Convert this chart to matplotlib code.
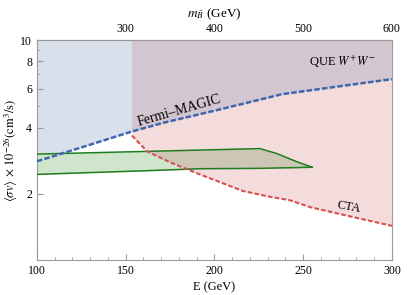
import numpy as np
import matplotlib
matplotlib.use('Agg')
import matplotlib.pyplot as plt

plt.rcParams['font.family'] = ['Liberation Serif', 'DejaVu Serif']
plt.rcParams['mathtext.fontset'] = 'stix'

# ----------------------------- data

# Fermi-MAGIC limit (blue dashed)
fermi_E = [100, 133.8, 153.5, 171.5, 201.4, 238, 300]
fermi_sv = [2.81, 3.42, 3.84, 4.21, 4.80, 5.67, 6.64]

# CTA sensitivity (red dashed)
cta_E = [153.5, 162, 175, 191.8, 216, 229.6, 242.5, 253.8, 276.3, 300]
cta_sv = [3.68, 3.12, 2.78, 2.45, 2.06, 1.95, 1.87, 1.74, 1.58, 1.43]

# green band
band_E = [100, 164, 192, 225.6, 235, 246.3, 255.1]
band_hi = [3.03, 3.12, 3.16, 3.21, 3.05, 2.80, 2.64]
band_lo = [2.45, 2.55, 2.60, 2.61, 2.62, 2.63, 2.64]

# ----------------------------- plotting

fig = plt.figure(figsize=(4.07, 2.95), dpi=100)
ax = fig.add_axes([0.0909, 0.1186, 0.872, 0.7458])

blue_c = '#d9e0ec'
pink_c = '#f4dcdd'
purple_c = '#d3c6d0'
green_c = '#cfe6cd'
tan_c = '#cec6b5'

top = 10
ax.fill_between(fermi_E, fermi_sv, top, color=blue_c, lw=0, zorder=1)
pink = ax.fill_between(cta_E, cta_sv, top, color=pink_c, lw=0, zorder=1)
pink_path = pink.get_paths()[0]

# overlap blue/pink
ov = ax.fill_between(fermi_E, fermi_sv, top, color=purple_c, lw=0, zorder=2)
ov.set_clip_path(pink_path, ax.transData)

# green band and its overlap with pink
ax.fill_between(band_E, band_lo, band_hi, color=green_c, lw=0, zorder=2)
ov2 = ax.fill_between(band_E, band_lo, band_hi, color=tan_c, lw=0, zorder=3)
ov2.set_clip_path(pink_path, ax.transData)
ax.plot(band_E, band_hi, color='#1e7d1e', lw=1.1, zorder=4)
ax.plot(band_E, band_lo, color='#1e7d1e', lw=1.1, zorder=4)
ax.plot([band_E[-1], band_E[-1]], [band_lo[-1], band_hi[-1]], color='#1e7d1e', lw=1.1, zorder=4)

ax.plot(fermi_E, fermi_sv, color='#3d66ad', lw=1.8, ls=(0, (2.2, 0.9)), zorder=5)
ax.plot(cta_E, cta_sv, color='#d65050', lw=1.5, ls=(0, (2.2, 1.1)), zorder=5)

ax.text(180, 4.75, 'Fermi\u2013MAGIC', fontsize=10, rotation=16, ha='center', va='center', zorder=6)
ax.text(272, 7.95, 'QUE $W^{+}W^{-}$', fontsize=9, ha='center', va='center', zorder=6)
ax.text(276, 1.74, 'CTA', fontsize=9, rotation=-10, ha='center', va='center', zorder=6)

ax.set_yscale('log')
ax.set_xlim(100, 300)
ax.set_ylim(1, 10)
ax.set_yticks([2, 4, 6, 8, 10])
ax.set_yticklabels(['2', '4', '6', '8', '10'])
ax.set_yticks([3, 5, 7, 9], minor=True)
ax.yaxis.set_minor_formatter(matplotlib.ticker.NullFormatter())
ax.set_xticks([100, 150, 200, 250, 300])
ax.set_xticks(np.arange(110, 300, 10), minor=True)

ax.set_xlabel('E (GeV)', fontsize=9, labelpad=3)
ax.set_ylabel(r'$\langle\sigma v\rangle\,\times\,10^{-26}(\mathrm{cm}^3/\mathrm{s})$', fontsize=9)
ax.yaxis.set_label_coords(-0.047, 0.5)

for s in ax.spines.values():
    s.set_color('#999999')
    s.set_linewidth(0.8)
ax.tick_params(which='both', direction='in', colors='#999999', labelcolor='black', labelsize=8.5)
ax.tick_params(which='major', length=4)
ax.tick_params(which='minor', length=2)
ax.tick_params(axis='y', which='both', right=False)

sec = ax.secondary_xaxis('top', functions=(lambda e: 2 * e, lambda m: m / 2))
sec.set_xticks([300, 400, 500, 600])
sec.tick_params(direction='in', colors='#999999', labelcolor='black', labelsize=8.5, length=4)
sec.spines['top'].set_color('#999999')
sec.set_xlabel(r'$m_{\tilde{B}}$ (GeV)', fontsize=9.5, labelpad=4)

fig.savefig('out.png', dpi=100)
